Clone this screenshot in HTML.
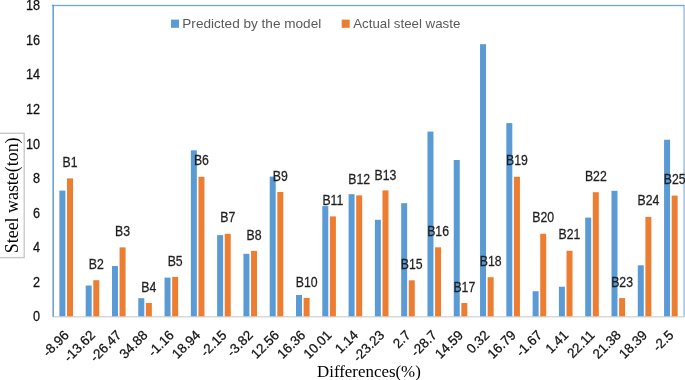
<!DOCTYPE html>
<html><head><meta charset="utf-8"><style>
html,body{margin:0;padding:0;background:#fff;width:685px;height:380px;overflow:hidden}
svg{display:block;will-change:transform}
text{font-family:"Liberation Sans",sans-serif}
.dl{font-size:13.8px;fill:#1f1f1f;stroke:#1f1f1f;stroke-width:0.25px}
.yt{font-size:13.8px;fill:#111;stroke:#111;stroke-width:0.25px}
.xt{font-size:13.6px;fill:#111;stroke:#111;stroke-width:0.25px}
.lg{font-size:13.3px;fill:#595959}
.ser{font-family:"Liberation Serif",serif;fill:#000}
</style></head><body>
<svg width="685" height="380" viewBox="0 0 685 380">
<rect x="53" y="316" width="631" height="1.5" fill="#d9d9d9"/>
<rect x="59.40" y="190.60" width="6.0" height="125.70" fill="#5b9bd5"/>
<rect x="67.00" y="178.40" width="6.0" height="137.90" fill="#ed7d31"/>
<rect x="85.69" y="285.50" width="6.0" height="30.80" fill="#5b9bd5"/>
<rect x="93.29" y="280.20" width="6.0" height="36.10" fill="#ed7d31"/>
<rect x="111.98" y="266.00" width="6.0" height="50.30" fill="#5b9bd5"/>
<rect x="119.58" y="247.40" width="6.0" height="68.90" fill="#ed7d31"/>
<rect x="138.27" y="298.20" width="6.0" height="18.10" fill="#5b9bd5"/>
<rect x="145.87" y="303.00" width="6.0" height="13.30" fill="#ed7d31"/>
<rect x="164.56" y="277.60" width="6.0" height="38.70" fill="#5b9bd5"/>
<rect x="172.16" y="276.90" width="6.0" height="39.40" fill="#ed7d31"/>
<rect x="190.85" y="150.30" width="6.0" height="166.00" fill="#5b9bd5"/>
<rect x="198.45" y="176.80" width="6.0" height="139.50" fill="#ed7d31"/>
<rect x="217.14" y="235.10" width="6.0" height="81.20" fill="#5b9bd5"/>
<rect x="224.74" y="233.80" width="6.0" height="82.50" fill="#ed7d31"/>
<rect x="243.43" y="253.80" width="6.0" height="62.50" fill="#5b9bd5"/>
<rect x="251.03" y="250.90" width="6.0" height="65.40" fill="#ed7d31"/>
<rect x="269.72" y="176.60" width="6.0" height="139.70" fill="#5b9bd5"/>
<rect x="277.32" y="192.00" width="6.0" height="124.30" fill="#ed7d31"/>
<rect x="296.01" y="295.00" width="6.0" height="21.30" fill="#5b9bd5"/>
<rect x="303.61" y="297.90" width="6.0" height="18.40" fill="#ed7d31"/>
<rect x="322.30" y="206.10" width="6.0" height="110.20" fill="#5b9bd5"/>
<rect x="329.90" y="216.40" width="6.0" height="99.90" fill="#ed7d31"/>
<rect x="348.59" y="194.20" width="6.0" height="122.10" fill="#5b9bd5"/>
<rect x="356.19" y="195.40" width="6.0" height="120.90" fill="#ed7d31"/>
<rect x="374.88" y="219.80" width="6.0" height="96.50" fill="#5b9bd5"/>
<rect x="382.48" y="190.40" width="6.0" height="125.90" fill="#ed7d31"/>
<rect x="401.17" y="203.20" width="6.0" height="113.10" fill="#5b9bd5"/>
<rect x="408.77" y="280.30" width="6.0" height="36.00" fill="#ed7d31"/>
<rect x="427.46" y="131.60" width="6.0" height="184.70" fill="#5b9bd5"/>
<rect x="435.06" y="247.30" width="6.0" height="69.00" fill="#ed7d31"/>
<rect x="453.75" y="160.00" width="6.0" height="156.30" fill="#5b9bd5"/>
<rect x="461.35" y="303.00" width="6.0" height="13.30" fill="#ed7d31"/>
<rect x="480.04" y="44.20" width="6.0" height="272.10" fill="#5b9bd5"/>
<rect x="487.64" y="277.20" width="6.0" height="39.10" fill="#ed7d31"/>
<rect x="506.33" y="123.10" width="6.0" height="193.20" fill="#5b9bd5"/>
<rect x="513.93" y="176.80" width="6.0" height="139.50" fill="#ed7d31"/>
<rect x="532.62" y="291.25" width="6.0" height="25.05" fill="#5b9bd5"/>
<rect x="540.22" y="233.75" width="6.0" height="82.55" fill="#ed7d31"/>
<rect x="558.91" y="286.75" width="6.0" height="29.55" fill="#5b9bd5"/>
<rect x="566.51" y="250.75" width="6.0" height="65.55" fill="#ed7d31"/>
<rect x="585.20" y="217.60" width="6.0" height="98.70" fill="#5b9bd5"/>
<rect x="592.80" y="192.20" width="6.0" height="124.10" fill="#ed7d31"/>
<rect x="611.49" y="190.80" width="6.0" height="125.50" fill="#5b9bd5"/>
<rect x="619.09" y="298.10" width="6.0" height="18.20" fill="#ed7d31"/>
<rect x="637.78" y="265.30" width="6.0" height="51.00" fill="#5b9bd5"/>
<rect x="645.38" y="216.90" width="6.0" height="99.40" fill="#ed7d31"/>
<rect x="664.07" y="139.75" width="6.0" height="176.55" fill="#5b9bd5"/>
<rect x="671.67" y="195.60" width="6.0" height="120.70" fill="#ed7d31"/>
<rect x="683.3" y="4.8" width="1.7" height="312" fill="#a9c8e9"/>
<rect x="52" y="4.8" width="1" height="312" fill="#a3c5e9"/>
<rect x="53" y="4.8" width="1" height="312" fill="#6fa5dc"/>
<rect x="52" y="4.85" width="632" height="1.3" fill="#5b9bd5" opacity="0.88"/>
<text transform="translate(70.00 167.05) scale(0.89 1)" class="dl" text-anchor="middle">B1</text>
<text transform="translate(96.29 268.85) scale(0.89 1)" class="dl" text-anchor="middle">B2</text>
<text transform="translate(122.58 236.05) scale(0.89 1)" class="dl" text-anchor="middle">B3</text>
<text transform="translate(148.87 291.65) scale(0.89 1)" class="dl" text-anchor="middle">B4</text>
<text transform="translate(175.16 265.55) scale(0.89 1)" class="dl" text-anchor="middle">B5</text>
<text transform="translate(201.45 164.95) scale(0.89 1)" class="dl" text-anchor="middle">B6</text>
<text transform="translate(227.74 222.45) scale(0.89 1)" class="dl" text-anchor="middle">B7</text>
<text transform="translate(254.03 239.55) scale(0.89 1)" class="dl" text-anchor="middle">B8</text>
<text transform="translate(280.32 180.65) scale(0.89 1)" class="dl" text-anchor="middle">B9</text>
<text transform="translate(306.61 286.55) scale(0.89 1)" class="dl" text-anchor="middle">B10</text>
<text transform="translate(332.90 205.05) scale(0.89 1)" class="dl" text-anchor="middle">B11</text>
<text transform="translate(359.19 184.05) scale(0.89 1)" class="dl" text-anchor="middle">B12</text>
<text transform="translate(385.48 179.65) scale(0.89 1)" class="dl" text-anchor="middle">B13</text>
<text transform="translate(411.77 268.95) scale(0.89 1)" class="dl" text-anchor="middle">B15</text>
<text transform="translate(438.06 235.95) scale(0.89 1)" class="dl" text-anchor="middle">B16</text>
<text transform="translate(464.35 291.65) scale(0.89 1)" class="dl" text-anchor="middle">B17</text>
<text transform="translate(490.64 265.85) scale(0.89 1)" class="dl" text-anchor="middle">B18</text>
<text transform="translate(516.93 164.95) scale(0.89 1)" class="dl" text-anchor="middle">B19</text>
<text transform="translate(543.22 222.40) scale(0.89 1)" class="dl" text-anchor="middle">B20</text>
<text transform="translate(569.51 239.40) scale(0.89 1)" class="dl" text-anchor="middle">B21</text>
<text transform="translate(595.80 180.85) scale(0.89 1)" class="dl" text-anchor="middle">B22</text>
<text transform="translate(622.09 286.75) scale(0.89 1)" class="dl" text-anchor="middle">B23</text>
<text transform="translate(648.38 204.75) scale(0.89 1)" class="dl" text-anchor="middle">B24</text>
<text transform="translate(674.67 184.25) scale(0.89 1)" class="dl" text-anchor="middle">B25</text>
<text transform="translate(40 321.20) scale(0.92 1)" class="yt" text-anchor="end">0</text>
<text transform="translate(40 286.66) scale(0.92 1)" class="yt" text-anchor="end">2</text>
<text transform="translate(40 252.12) scale(0.92 1)" class="yt" text-anchor="end">4</text>
<text transform="translate(40 217.58) scale(0.92 1)" class="yt" text-anchor="end">6</text>
<text transform="translate(40 183.04) scale(0.92 1)" class="yt" text-anchor="end">8</text>
<text transform="translate(40 148.50) scale(0.92 1)" class="yt" text-anchor="end">10</text>
<text transform="translate(40 113.96) scale(0.92 1)" class="yt" text-anchor="end">12</text>
<text transform="translate(40 79.42) scale(0.92 1)" class="yt" text-anchor="end">14</text>
<text transform="translate(40 44.88) scale(0.92 1)" class="yt" text-anchor="end">16</text>
<text transform="translate(40 10.34) scale(0.92 1)" class="yt" text-anchor="end">18</text>
<text class="xt" text-anchor="end" transform="translate(69.70 336.00) rotate(-45) scale(0.98 1)">-8.96</text>
<text class="xt" text-anchor="end" transform="translate(95.99 336.00) rotate(-45) scale(0.98 1)">-13.62</text>
<text class="xt" text-anchor="end" transform="translate(122.28 336.00) rotate(-45) scale(0.98 1)">-26.47</text>
<text class="xt" text-anchor="end" transform="translate(148.57 336.00) rotate(-45) scale(0.98 1)">34.88</text>
<text class="xt" text-anchor="end" transform="translate(174.86 336.00) rotate(-45) scale(0.98 1)">-1.16</text>
<text class="xt" text-anchor="end" transform="translate(201.15 336.00) rotate(-45) scale(0.98 1)">18.94</text>
<text class="xt" text-anchor="end" transform="translate(227.44 336.00) rotate(-45) scale(0.98 1)">-2.15</text>
<text class="xt" text-anchor="end" transform="translate(253.73 336.00) rotate(-45) scale(0.98 1)">-3.82</text>
<text class="xt" text-anchor="end" transform="translate(280.02 336.00) rotate(-45) scale(0.98 1)">12.56</text>
<text class="xt" text-anchor="end" transform="translate(306.31 336.00) rotate(-45) scale(0.98 1)">16.36</text>
<text class="xt" text-anchor="end" transform="translate(332.60 336.00) rotate(-45) scale(0.98 1)">10.01</text>
<text class="xt" text-anchor="end" transform="translate(358.89 336.00) rotate(-45) scale(0.98 1)">1.14</text>
<text class="xt" text-anchor="end" transform="translate(385.18 336.00) rotate(-45) scale(0.98 1)">-23.23</text>
<text class="xt" text-anchor="end" transform="translate(411.47 336.00) rotate(-45) scale(0.98 1)">2.7</text>
<text class="xt" text-anchor="end" transform="translate(437.76 336.00) rotate(-45) scale(0.98 1)">-28.7</text>
<text class="xt" text-anchor="end" transform="translate(464.05 336.00) rotate(-45) scale(0.98 1)">14.59</text>
<text class="xt" text-anchor="end" transform="translate(490.34 336.00) rotate(-45) scale(0.98 1)">0.32</text>
<text class="xt" text-anchor="end" transform="translate(516.63 336.00) rotate(-45) scale(0.98 1)">16.79</text>
<text class="xt" text-anchor="end" transform="translate(542.92 336.00) rotate(-45) scale(0.98 1)">-1.67</text>
<text class="xt" text-anchor="end" transform="translate(569.21 336.00) rotate(-45) scale(0.98 1)">1.41</text>
<text class="xt" text-anchor="end" transform="translate(595.50 336.00) rotate(-45) scale(0.98 1)">22.11</text>
<text class="xt" text-anchor="end" transform="translate(621.79 336.00) rotate(-45) scale(0.98 1)">21.38</text>
<text class="xt" text-anchor="end" transform="translate(648.08 336.00) rotate(-45) scale(0.98 1)">18.39</text>
<text class="xt" text-anchor="end" transform="translate(674.37 336.00) rotate(-45) scale(0.98 1)">-2.5</text>
<rect x="171" y="19.6" width="8" height="8.2" fill="#5b9bd5"/>
<text transform="translate(182.3 28) scale(1.022 1)" class="lg">Predicted by the model</text>
<rect x="341.7" y="19.6" width="8" height="8.2" fill="#ed7d31"/>
<text x="353.2" y="28" class="lg">Actual steel waste</text>
<text x="317" y="376.9" class="ser" font-size="16.9">Differences(%)</text>
<rect x="-5" y="133.3" width="29.2" height="124.3" fill="none" stroke="#c8c8c8" stroke-width="1.4"/>
<text x="18.5" y="253.2" class="ser" font-size="17.9" transform="rotate(-90 18.5 253.2)">Steel waste(ton)</text>
</svg>
</body></html>
